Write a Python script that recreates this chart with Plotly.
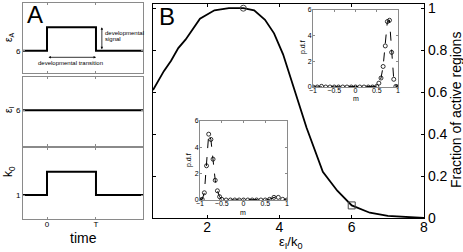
import plotly.graph_objects as go

W, H = 463, 252

# ---------------- data ----------------
# Panel A: step protocols
time_pts = [-0.49, 0, 1, 1.96]
eps_A = [6, 7, 6, 6]
eps_I = [6, 6, 6, 6]
k0 = [1, 2, 1, 1]

# Panel B: fraction of active regions vs eps_I/k0
ratio = [0.5, 0.8, 1.0, 1.2, 1.4, 1.8, 2.2, 2.6, 3.0, 3.3, 3.6, 3.85, 4.1, 4.3,
         4.5, 4.75, 5.2, 5.6, 6.0, 6.5, 7.0, 7.5, 8.0]
frac = [0.61, 0.70, 0.75, 0.81, 0.85, 0.95, 0.99, 1.0, 1.0, 0.99, 0.945, 0.88,
        0.78, 0.67, 0.56, 0.43, 0.22, 0.13, 0.06, 0.025, 0.01, 0.005, 0.0]
circ_pt_x = [3.0]
circ_pt_y = [1.0]
sq_pt_x = [6.0]
sq_pt_y = [0.06]

# Inset 1 (top right) p.d.f of m
m1 = [-1, -0.9, -0.8, -0.7, -0.6, -0.5, -0.4, -0.3, -0.2, -0.1, 0, 0.1, 0.2,
      0.3, 0.4, 0.5, 0.55, 0.6, 0.65, 0.7, 0.75, 0.8, 0.85, 0.9, 0.95, 1.0]
p1 = [0, 0, 0.05, 0, 0, 0, 0, 0, 0, 0, 0, 0, 0, 0, 0, 0.05, 0.3, 0.7, 1.6,
      3.2, 5.1, 5.2, 2.7, 0.6, 0.05, 0]

# Inset 2 (bottom left) p.d.f of m
m2 = [-1.0, -0.95, -0.9, -0.85, -0.8, -0.75, -0.7, -0.65, -0.6, -0.55, -0.5,
      -0.4, -0.3, -0.2, -0.1, 0, 0.1, 0.2, 0.3, 0.4, 0.5, 0.6, 0.7, 0.8, 0.9, 1.0]
p2 = [0, 0.05, 0.55, 2.6, 5.0, 4.6, 3.1, 1.5, 0.7, 0.25, 0.05,
      0, 0, 0, 0, 0, 0, 0, 0, 0, 0, 0.05, 0.2, 0.2, 0.05, 0]

inset_xticks = [-1, -0.5, 0, 0.5, 1]
inset_xlabels = ["\u22121", "\u22120.5", "0", "0.5", "1"]
inset_yticks = [0, 2, 4, 6]
main_xticks = [2, 4, 6, 8]
main_yticks = [0, 0.2, 0.4, 0.6, 0.8, 1]
main_ylabels = ["0", "0.2", "0.4", "0.6", "0.8", "1"]

FONT = "Liberation Sans, Arial, sans-serif"


def dx(px0, px1):
    return [px0 / W, px1 / W]


def dy(py_top, py_bot):
    return [1 - py_bot / H, 1 - py_top / H]


fig = go.Figure()

blk = dict(color="black", width=2)
fig.add_trace(go.Scatter(x=time_pts, y=eps_A, mode="lines", line_shape="hv",
                         line=blk, xaxis="x", yaxis="y"))
fig.add_trace(go.Scatter(x=time_pts, y=eps_I, mode="lines", line_shape="hv",
                         line=blk, xaxis="x2", yaxis="y2"))
fig.add_trace(go.Scatter(x=time_pts, y=k0, mode="lines", line_shape="hv",
                         line=blk, xaxis="x3", yaxis="y3"))

fig.add_trace(go.Scatter(x=ratio, y=frac, mode="lines", line=dict(color="black", width=1.8),
                         xaxis="x4", yaxis="y4"))
fig.add_trace(go.Scatter(x=circ_pt_x, y=circ_pt_y, mode="markers",
                         marker=dict(symbol="circle-open", size=6, color="#444", line=dict(width=1)),
                         xaxis="x4", yaxis="y4"))
fig.add_trace(go.Scatter(x=sq_pt_x, y=sq_pt_y, mode="markers",
                         marker=dict(symbol="square-open", size=7, color="#444", line=dict(width=1)),
                         xaxis="x4", yaxis="y4"))

ins_line = dict(color="black", width=1, dash="dash")
ins_mark = dict(symbol="circle-open", size=4, color="black", line=dict(width=0.8))
fig.add_trace(go.Scatter(x=m1, y=p1, mode="lines+markers", line=ins_line, marker=ins_mark,
                         xaxis="x5", yaxis="y5"))
fig.add_trace(go.Scatter(x=m2, y=p2, mode="lines+markers", line=ins_line, marker=ins_mark,
                         xaxis="x6", yaxis="y6"))

gray = "#8a8a8a"
a_common = dict(showline=True, linecolor=gray, linewidth=1, mirror="ticks", ticks="inside",
                ticklen=2, tickcolor=gray, showgrid=False, zeroline=False,
                tickfont=dict(size=8, family=FONT, color="black"), fixedrange=True)

xA = dict(range=[-0.49, 1.96], domain=dx(23, 143), tickvals=[0, 1], **a_common)
fig.update_layout(
    xaxis=dict(xA, anchor="y", showticklabels=False),
    yaxis=dict(a_common, range=[5.05, 8.04], domain=dy(3, 73), anchor="x", tickvals=[6]),
    xaxis2=dict(xA, anchor="y2", showticklabels=False),
    yaxis2=dict(a_common, range=[4.47, 7.42], domain=dy(77, 146), anchor="x2", tickvals=[6]),
    xaxis3=dict(xA, anchor="y3", ticktext=["0", "T"], ticklabelstandoff=-3),
    yaxis3=dict(a_common, range=[-0.03, 3.02], domain=dy(148, 219), anchor="x3", tickvals=[1]),
)

b_common = dict(showline=True, linecolor="black", linewidth=1.2, mirror="ticks", ticks="inside",
                ticklen=3, tickcolor="black", showgrid=False, zeroline=False,
                tickfont=dict(size=14, family=FONT, color="black"), fixedrange=True)
fig.update_layout(
    xaxis4=dict(b_common, range=[0.5, 8], domain=dx(153, 424), anchor="y4", tickvals=main_xticks,
                ticklabelstandoff=-4),
    yaxis4=dict(b_common, range=[0, 1.02], domain=dy(4, 218), anchor="x4", side="right",
                tickvals=main_yticks, ticktext=main_ylabels),
)

i_common = dict(showline=True, linecolor=gray, linewidth=1, mirror="ticks", ticks="inside",
                ticklen=2, tickcolor=gray, showgrid=False, zeroline=False,
                tickfont=dict(size=7, family=FONT, color="black"), fixedrange=True)
fig.update_layout(
    xaxis5=dict(i_common, range=[-1, 1], domain=dx(313, 398), anchor="y5",
                tickvals=inset_xticks, ticktext=inset_xlabels, ticklabelstandoff=-3),
    yaxis5=dict(i_common, range=[0, 6], domain=dy(10, 87), anchor="x5", tickvals=inset_yticks,
                ticklabelstandoff=-1),
    xaxis6=dict(i_common, range=[-1, 1], domain=dx(200, 287), anchor="y6",
                tickvals=inset_xticks, ticktext=inset_xlabels, ticklabelstandoff=-3),
    yaxis6=dict(i_common, range=[0, 6], domain=dy(121, 200), anchor="x6", tickvals=inset_yticks,
                ticklabelstandoff=-1),
)

ann = []


def txt(x, y, s, size, angle=0, xanchor="center", yanchor="middle"):
    ann.append(dict(x=x / W, y=1 - y / H, xref="paper", yref="paper", text=s, showarrow=False,
                    font=dict(size=size, family=FONT, color="black"), textangle=angle,
                    xanchor=xanchor, yanchor=yanchor))


txt(35, 14, "A", 24)
txt(167, 16, "B", 24)
txt(9, 38, "\u03b5<sub>A</sub>", 10, angle=-90)
txt(9, 110, "\u03b5<sub>I</sub>", 10, angle=-90)
txt(9, 172, "k<sub>0</sub>", 12, angle=-90)
txt(83, 238, "time", 14)
txt(291, 242, "\u03b5<sub>I</sub>/k<sub>0</sub>", 13)
txt(456, 110, "Fraction of active regions", 14, angle=-90)
txt(356, 99, "m", 7)
txt(243, 212, "m", 7)
txt(303, 47, "p.d.f", 7, angle=-90)
txt(189, 160, "p.d.f", 7, angle=-90)
txt(103, 33, "developmental", 6, xanchor="left")
txt(103, 39, "signal", 6, xanchor="left")
txt(70, 63, "developmental transition", 6)

# double arrows
ann.append(dict(x=1.12, y=7, ax=1.12, ay=6, xref="x", yref="y", axref="x", ayref="y",
                text="", showarrow=True, arrowhead=2, arrowside="end+start", arrowsize=0.6,
                arrowwidth=0.8, arrowcolor="black"))
ann.append(dict(x=1, y=5.72, ax=0, ay=5.72, xref="x", yref="y", axref="x", ayref="y",
                text="", showarrow=True, arrowhead=2, arrowside="end+start", arrowsize=0.6,
                arrowwidth=0.8, arrowcolor="black"))

fig.update_layout(annotations=ann, width=W, height=H, margin=dict(l=0, r=0, t=0, b=0,
                                                                   autoexpand=False),
                  showlegend=False, paper_bgcolor="white", plot_bgcolor="white",
                  font=dict(family=FONT))

fig.write_html("out.html", config={"displayModeBar": False},
               post_script="document.body.style.margin='0';document.body.style.padding='0';")
